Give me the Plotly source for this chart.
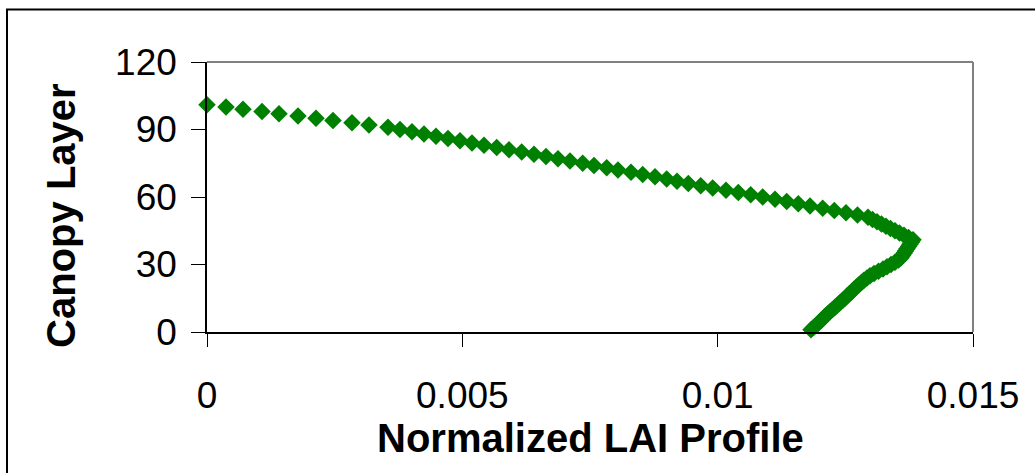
import plotly.graph_objects as go

# Canopy layers 1..101 (bottom to top) and their normalized LAI share
layers = list(range(1, 102))
lai_profile = [
    0.011828, 0.011877, 0.011926, 0.011974, 0.012023, 0.012063, 0.012102, 0.012151, 0.012200, 0.012249,
    0.012298, 0.012346, 0.012395, 0.012444, 0.012493, 0.012533, 0.012581, 0.012630, 0.012670, 0.012718,
    0.012768, 0.012816, 0.012865, 0.012924, 0.012983, 0.013061, 0.013149, 0.013238, 0.013316, 0.013394,
    0.013472, 0.013541, 0.013590, 0.013619, 0.013649, 0.013678, 0.013707, 0.013737, 0.013766, 0.013796,
    0.013825, 0.013737, 0.013649, 0.013561, 0.013472, 0.013384, 0.013296, 0.013208, 0.013120, 0.013032,
    0.012944, 0.012738, 0.012513, 0.012284, 0.012057, 0.011808, 0.011579, 0.011352, 0.011123, 0.010882,
    0.010647, 0.010404, 0.010163, 0.009903, 0.009668, 0.009425, 0.009204, 0.009002, 0.008773, 0.008532,
    0.008303, 0.008048, 0.007827, 0.007578, 0.007357, 0.007108, 0.006873, 0.006638, 0.006403, 0.006162,
    0.005914, 0.005673, 0.005424, 0.005189, 0.004954, 0.004719, 0.004484, 0.004249, 0.004014, 0.003779,
    0.003544, 0.003172, 0.002839, 0.002467, 0.002134, 0.001782, 0.001410, 0.001077, 0.000705, 0.000372,
    0.000000,
]

x_tickvals = [0, 0.005, 0.01, 0.015]
x_ticktext = ["0", "0.005", "0.01", "0.015"]
y_tickvals = [0, 30, 60, 90, 120]
y_ticktext = ["0", "30", "60", "90", "120"]

FONT = "Liberation Sans, Arial, sans-serif"

fig = go.Figure()
fig.add_trace(go.Scatter(
    x=lai_profile, y=layers, mode="markers",
    marker=dict(symbol="diamond", size=13.5, color="#008000", line=dict(width=0)),
    cliponaxis=False, showlegend=False,
))

fig.update_layout(
    width=1035, height=473,
    margin=dict(l=207, r=62, t=62, b=141),
    paper_bgcolor="white", plot_bgcolor="white",
    font=dict(family=FONT, color="black"),
    xaxis=dict(
        range=[0, 0.015], tickvals=x_tickvals, ticktext=x_ticktext,
        showgrid=False, zeroline=False, showline=True, linecolor="black", linewidth=1.5,
        ticks="outside", ticklen=13, tickwidth=1, tickcolor="black",
        tickfont=dict(size=37, family=FONT), ticklabelstandoff=17,
    ),
    yaxis=dict(
        range=[0, 120], tickvals=y_tickvals, ticktext=y_ticktext,
        showgrid=False, zeroline=False, showline=True, linecolor="black", linewidth=1.5,
        ticks="outside", ticklen=14, tickwidth=1, tickcolor="black",
        tickfont=dict(size=37, family=FONT), ticklabelstandoff=7,
    ),
    annotations=[
        dict(text="<b>Normalized LAI Profile</b>", xref="paper", yref="paper",
             x=0.5, y=0, xanchor="center", yanchor="middle", yshift=-106,
             showarrow=False, font=dict(size=40, family=FONT, color="black")),
        dict(text="<b>Canopy Layer</b>", xref="paper", yref="paper",
             x=0, y=0.43, xanchor="center", yanchor="middle", xshift=-146,
             textangle=-90, showarrow=False, font=dict(size=40, family=FONT, color="black")),
    ],
    shapes=[
        # grey frame along the top and right of the plotting area
        dict(type="line", xref="paper", yref="paper", x0=0, y0=1, x1=1, y1=1,
             line=dict(color="#808080", width=2)),
        dict(type="line", xref="paper", yref="paper", x0=1, y0=0, x1=1, y1=1,
             line=dict(color="#808080", width=2)),
        # outer chart border
        dict(type="rect", xref="paper", yref="paper", x0=-0.2611, y0=-0.7, x1=1.2, y1=1.1944,
             line=dict(color="black", width=2), fillcolor="rgba(0,0,0,0)", layer="below"),
    ],
)

fig.write_html("out.html")
